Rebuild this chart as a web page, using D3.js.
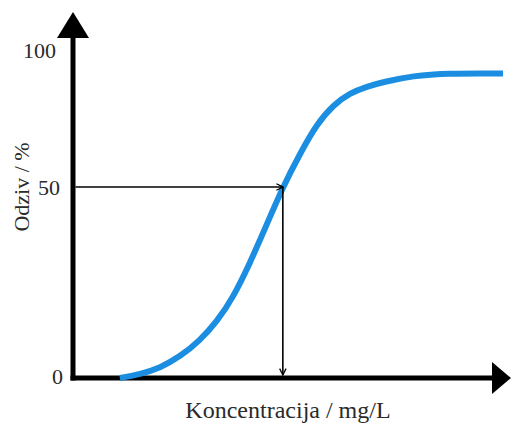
<!DOCTYPE html>
<html>
<head>
<meta charset="utf-8">
<script src="https://cdnjs.cloudflare.com/ajax/libs/d3/7.8.5/d3.min.js"></script>
<style>
body { margin: 0; background: #fff; }
text { font-family: "Liberation Serif", serif; fill: #2a2a2a; }
</style>
</head>
<body>
<div id="chart"></div>
<script>
// data
var concentration = [1.09, 1.56, 2.02, 2.49, 2.95, 3.35, 3.72, 4.12, 4.49, 4.88, 5.28, 5.67, 6.05, 6.44, 6.84, 7.21, 7.91, 8.7, 10];
var response      = [0, 1.0, 2.6, 5.6, 9.8, 14.8, 21.0, 30.2, 39.8, 50, 62.2, 73.0, 79.9, 84.3, 86.7, 88.3, 90.6, 91.5, 91.4];
var yTicks = [0, 50, 100];
var markX = 4.88;   // concentration at 50 %
var markY = 50;
var xTitle = "Koncentracija / mg/L";
var yTitle = "Odziv / %";

var w = 512, h = 423;

var svg = d3.select("#chart").append("svg")
    .attr("width", w)
    .attr("height", h);

var defs = svg.append("defs");
defs.append("marker")
    .attr("id", "tip")
    .attr("viewBox", "0 0 10 10")
    .attr("refX", 9).attr("refY", 5)
    .attr("markerWidth", 5).attr("markerHeight", 5)
    .attr("orient", "auto")
  .append("path")
    .attr("d", "M1,1 L9,5 L1,9")
    .attr("fill", "none")
    .attr("stroke", "#000")
    .attr("stroke-width", 1.6);

var xScale = d3.scaleLinear().domain([0, 10]).range([73, 503]);
// schematic axis: labels not evenly spaced in the original
var yScale = d3.scaleLinear().domain([0, 50, 100]).range([378, 187, 50]);

// axes with big arrowheads
svg.append("line")
    .attr("x1", xScale(0)).attr("x2", xScale(0))
    .attr("y1", yScale(0) + 2.5).attr("y2", 36)
    .attr("stroke", "#000").attr("stroke-width", 5);
svg.append("path")
    .attr("d", "M" + (xScale(0) - 16) + ",38 L" + xScale(0) + ",12 L" + (xScale(0) + 16) + ",38 Z")
    .attr("fill", "#000");

svg.append("line")
    .attr("x1", xScale(0) - 2.5).attr("x2", 494)
    .attr("y1", yScale(0)).attr("y2", yScale(0))
    .attr("stroke", "#000").attr("stroke-width", 5);
svg.append("path")
    .attr("d", "M492," + (yScale(0) - 16) + " L511," + yScale(0) + " L492," + (yScale(0) + 16) + " Z")
    .attr("fill", "#000");

// tick labels
svg.selectAll(".ytick")
    .data(yTicks)
  .enter().append("text")
    .attr("class", "ytick")
    .attr("x", d => d === 100 ? 56 : (d === 0 ? 63 : 60))
    .attr("y", d => yScale(d) - (d === 0 ? 2 : 0))
    .attr("dy", "0.35em")
    .attr("text-anchor", "end")
    .attr("font-size", "22px")
    .text(d => d);

// curve (B-spline smooths the hand-read points)
var line = d3.line()
    .x((d, i) => xScale(concentration[i]))
    .y(d => yScale(d))
    .curve(d3.curveBasis);

svg.append("path")
    .attr("d", line(response))
    .attr("fill", "none")
    .attr("stroke", "#1b8ee2")
    .attr("stroke-width", 6);

// 50 % reading arrows
svg.append("line")
    .attr("x1", xScale(0) + 2.5).attr("x2", xScale(markX))
    .attr("y1", yScale(markY)).attr("y2", yScale(markY))
    .attr("stroke", "#000").attr("stroke-width", 1.6)
    .attr("marker-end", "url(#tip)");
svg.append("line")
    .attr("x1", xScale(markX)).attr("x2", xScale(markX))
    .attr("y1", yScale(markY)).attr("y2", yScale(0) - 3)
    .attr("stroke", "#000").attr("stroke-width", 1.6)
    .attr("marker-end", "url(#tip)");

// titles
svg.append("text")
    .attr("x", 288).attr("y", 418)
    .attr("text-anchor", "middle")
    .attr("font-size", "24px")
    .text(xTitle);

svg.append("text")
    .attr("transform", "translate(29,187) rotate(-90)")
    .attr("text-anchor", "middle")
    .attr("font-size", "22px")
    .text(yTitle);
</script>
</body>
</html>
